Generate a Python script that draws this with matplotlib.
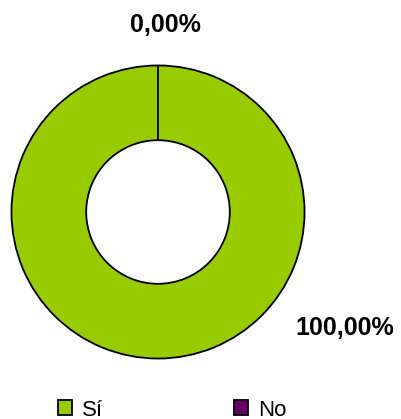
import matplotlib.pyplot as plt
from matplotlib.patches import Patch

# data
categories = ["Sí", "No"]
values = [100.0, 0.0]
colors = ["#99CC00", "#660066"]

plt.rcParams['font.family'] = ['Liberation Sans', 'DejaVu Sans']

W, H = 401, 419
fig = plt.figure(figsize=(W / 100, H / 100), dpi=100)

# donut centred at (158, 212) px, outer radius 148 px
cx, cy, r = 158, 212, 148
ax = fig.add_axes([(cx - r) / W, 1 - (cy + r) / H, 2 * r / W, 2 * r / H])

wedges, _ = ax.pie(values, colors=colors, startangle=90, counterclock=False,
                   radius=1.0,
                   wedgeprops=dict(width=0.51, edgecolor="black", linewidth=1.3))
ax.set_xlim(-1.01, 1.01)
ax.set_ylim(-1.01, 1.01)
ax.set_aspect("equal")
ax.axis("off")

# percentage labels
labels = [f"{v:.2f}%".replace(".", ",") for v in values]
fig.text(345 / W, 1 - 328 / H, labels[0], ha="center", va="center",
         fontsize=18, fontweight="bold")
fig.text(165 / W, 1 - 25 / H, labels[1], ha="center", va="center",
         fontsize=18, fontweight="bold")

# legend
handles = [Patch(facecolor=c, edgecolor="black", linewidth=1.3) for c in colors]
fig.legend(handles, categories, loc="center left", bbox_to_anchor=(47 / W, 1 - 410 / H),
           ncol=2, frameon=False, fontsize=16, handlelength=0.62, handleheight=0.62,
           handletextpad=0.45, columnspacing=5.9, borderpad=0)

fig.savefig("out.png", dpi=100)
